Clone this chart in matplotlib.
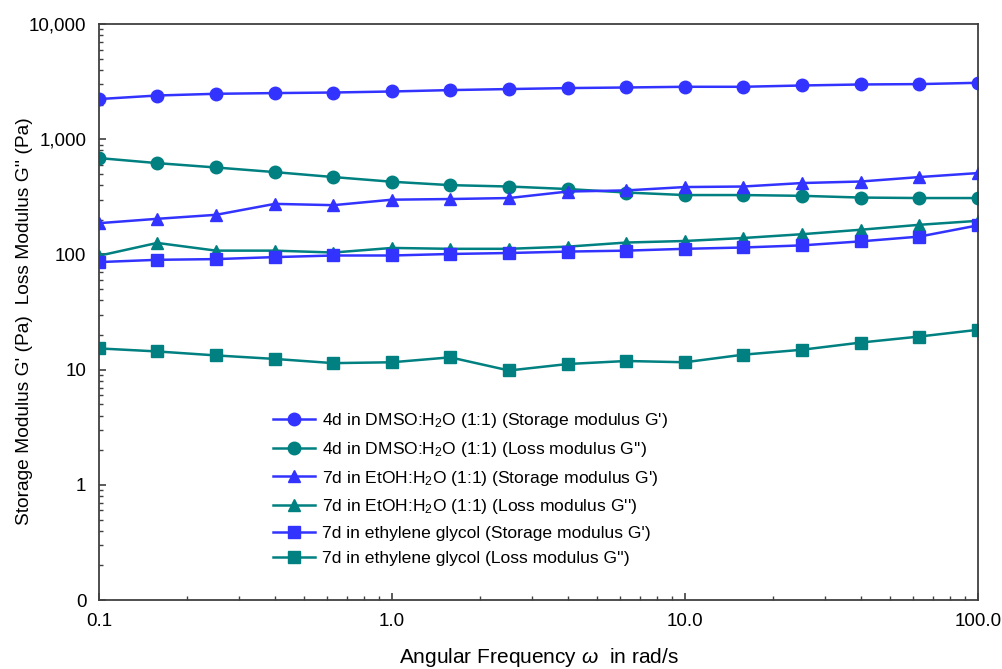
import numpy as np
import matplotlib
matplotlib.use('Agg')
import matplotlib.pyplot as plt
from matplotlib.ticker import FixedLocator, FixedFormatter, LogLocator, NullFormatter

plt.rcParams['font.family'] = ['Liberation Sans', 'DejaVu Sans']
plt.rcParams['mathtext.fontset'] = 'custom'
plt.rcParams['mathtext.rm'] = 'Liberation Sans'
plt.rcParams['mathtext.it'] = 'Liberation Sans:italic'

# angular frequency, rad/s
freq = [0.1, 0.158, 0.251, 0.398, 0.631, 1.0, 1.58, 2.51, 3.98, 6.31,
        10.0, 15.8, 25.1, 39.8, 63.1, 100.0]

dmso_g1 = [2234, 2399, 2483, 2518, 2547, 2600, 2673, 2729, 2783, 2816,
           2856, 2856, 2931, 2991, 3013, 3093]
dmso_g2 = [687, 621, 569, 519, 470, 428, 400, 389, 370, 345,
           328, 328, 323, 312, 309, 309]
etoh_g1 = [187, 204, 221, 275, 268, 299, 303, 309, 352, 360,
           385, 389, 417, 430, 470, 509]
etoh_g2 = [97.5, 126, 108, 108, 104, 114, 112, 112, 117, 127,
           131, 139, 150, 164, 181, 196]
glyc_g1 = [85.9, 89.9, 91.2, 94.9, 98, 98, 101, 103, 106, 108,
           112, 115, 120, 130, 143, 179]
glyc_g2 = [15.3, 14.4, 13.3, 12.4, 11.4, 11.6, 12.8, 9.84, 11.2, 11.9,
           11.6, 13.5, 14.9, 17.2, 19.4, 22.2]

labels = ["4d in DMSO:H$_2$O (1:1) (Storage modulus G')",
          "4d in DMSO:H$_2$O (1:1) (Loss modulus G'')",
          "7d in EtOH:H$_2$O (1:1) (Storage modulus G')",
          "7d in EtOH:H$_2$O (1:1) (Loss modulus G'')",
          "7d in ethylene glycol (Storage modulus G')",
          "7d in ethylene glycol (Loss modulus G'')"]

xticks = [0.1, 1, 10, 100]
xticklabels = ['0.1', '1.0', '10.0', '100.0']
yticks = [0.1, 1, 10, 100, 1000, 10000]
yticklabels = ['0', '1', '10', '100', '1,000', '10,000']

blue = '#3333ff'
teal = '#008080'

fig = plt.figure(figsize=(10.03, 6.69), dpi=100)
ax = fig.add_axes([0.0987, 0.103, 0.8763, 0.861])

series = [dmso_g1, dmso_g2, etoh_g1, etoh_g2, glyc_g1, glyc_g2]
colors = [blue, teal, blue, teal, blue, teal]
markers = ['o', 'o', '^', '^', 's', 's']
for s, c, m, lab in zip(series, colors, markers, labels):
    ax.plot(freq, s, color=c, marker=m, markersize=9, linewidth=1.8, label=lab)

ax.set_xscale('log')
ax.set_yscale('log')
ax.set_xlim(0.1, 100)
ax.set_ylim(0.1, 10000)

ax.xaxis.set_major_locator(FixedLocator(xticks))
ax.xaxis.set_major_formatter(FixedFormatter(xticklabels))
ax.yaxis.set_major_locator(FixedLocator(yticks))
ax.yaxis.set_major_formatter(FixedFormatter(yticklabels))
ax.xaxis.set_minor_locator(LogLocator(base=10, subs=np.arange(2, 10), numticks=20))
ax.yaxis.set_minor_locator(LogLocator(base=10, subs=np.arange(2, 10), numticks=20))
ax.xaxis.set_minor_formatter(NullFormatter())
ax.yaxis.set_minor_formatter(NullFormatter())

ax.tick_params(which='major', direction='in', length=5, width=1.2, color='#404040',
               labelsize=13.5, pad=9)
ax.tick_params(which='minor', direction='in', length=3, width=1.0, color='#404040')
for sp in ax.spines.values():
    sp.set_color('#404040')
    sp.set_linewidth(1.3)

ax.set_xlabel(r"Angular Frequency $\it{\omega}$  in rad/s", fontsize=15, labelpad=12)
ax.set_ylabel("Storage Modulus G' (Pa)  Loss Modulus G'' (Pa)", fontsize=13.8)
ax.yaxis.set_label_coords(-0.075, 0.484)

ax.legend(loc='upper left', bbox_to_anchor=(0.18, 0.355), frameon=False,
          fontsize=12.6, handlelength=2.4, labelspacing=0.55, handletextpad=0.4)

fig.savefig('out.png', dpi=100)
